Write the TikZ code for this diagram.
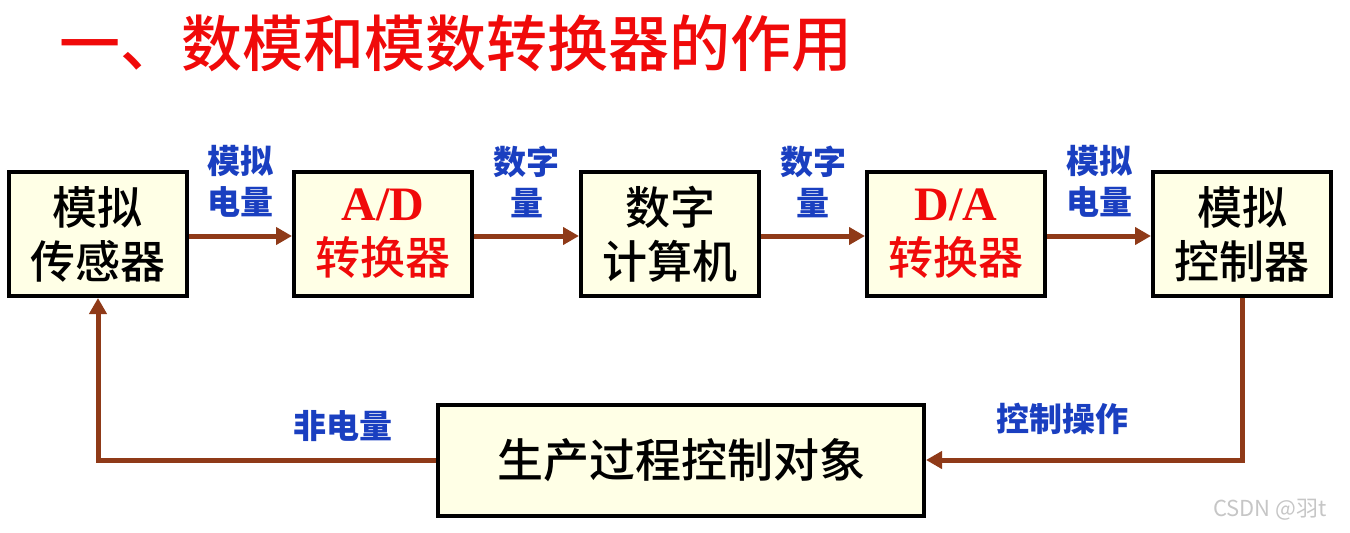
\documentclass[tikz,border=0pt]{standalone}
\usepackage{fontspec}
\usepackage{xcolor}
\usepackage{tikz}
\usetikzlibrary{arrows.meta,positioning}
\newfontfamily\cjk{Noto Sans CJK SC}
\newfontfamily\cjkm{Noto Sans CJK SC}[UprightFont={* Medium}]
\newfontfamily\serifb{Liberation Serif}
\definecolor{boxfill}{HTML}{FFFFE6}
\definecolor{rust}{HTML}{8F3A18}
\definecolor{royal}{HTML}{1A3FC0}
\definecolor{titlered}{HTML}{F00A0A}

\begin{document}
\begin{tikzpicture}[x=1pt,y=-1pt,
  blk/.style={draw=black,line width=4pt,fill=boxfill,minimum width=178pt,minimum height=124pt,
    align=center,inner sep=0pt,font=\cjkm\fontsize{45}{54}\selectfont},
  flow/.style={rust,line width=5pt,-{Triangle[length=16pt,width=17pt]}},
  tag/.style={royal,align=center,inner sep=0pt,font=\cjk\bfseries\fontsize{33}{41}\selectfont}]
\useasboundingbox (0,0) rectangle (1350,533);
% title
\node[titlered,anchor=west,font=\cjkm\fontsize{61}{70}\selectfont] (title) at (56,43) {一、数模和模数转换器的作用};
% blocks of the forward path
\node[blk] (sensor) at (98,234) {模拟\\传感器};
\node[blk,text=titlered] (adc) at (383,234) {{\serifb\bfseries\fontsize{48}{54}\selectfont A/D}\\转换器};
\node[blk] (cpu) at (670,234) {数字\\计算机};
\node[blk,text=titlered] (dac) at (956,234) {{\serifb\bfseries\fontsize{48}{54}\selectfont D/A}\\转换器};
\node[blk] (ctrl) at (1242,234) {模拟\\控制器};
\node[blk,minimum width=486pt,minimum height=111pt,font=\cjkm\fontsize{46}{54}\selectfont] (plant) at (681,460) {生产过程控制对象};
% forward arrows with their signals
\foreach \a/\b/\sig in {sensor/adc/{模拟\\电量},adc/cpu/{数字\\量},cpu/dac/{数字\\量},dac/ctrl/{模拟\\电量}}{
  \draw[flow] ([yshift=-2pt]\a.east) -- node[tag,above=16pt]{\sig} ([yshift=-2pt]\b.west);
}
% feedback loop
\draw[flow] (ctrl.south) |- (plant.east);
\draw[flow] (plant.west) -| (sensor.south);
\node[tag] (op) at (1062,419) {控制操作};
\node[tag] (nonel) at (343,426) {非电量};
% watermark
\node[gray!45,font=\cjk\fontsize{22}{26}\selectfont] (mark) at (1270,510) {CSDN @羽t};
\end{tikzpicture}
\end{document}
